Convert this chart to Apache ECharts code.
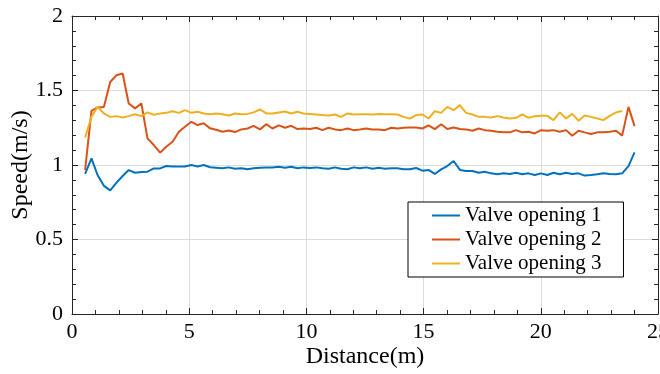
<!DOCTYPE html>
<html><head><meta charset="utf-8">
<script src="https://cdn.jsdelivr.net/npm/echarts@6/dist/echarts.min.js"></script>
<style>html,body{margin:0;padding:0;background:#fff}#c{width:660px;height:374px}</style>
</head><body><div id="c"></div>
<script>
var distance = [0.56,0.83,1.09,1.36,1.63,1.89,2.16,2.42,2.69,2.96,3.22,3.49,3.76,4.02,4.29,4.56,4.82,5.09,5.36,5.62,5.89,
6.15,6.42,6.69,6.95,7.22,7.49,7.75,8.02,8.29,8.55,
8.82,9.09,9.35,9.62,9.88,10.15,10.42,10.68,10.95,11.22,
11.48,11.75,12.02,12.28,12.55,12.82,13.08,13.35,13.62,13.88,
14.15,14.41,14.68,14.95,15.21,15.48,15.75,16.01,16.28,16.55,
16.81,17.08,17.35,17.61,17.88,18.15,18.41,18.68,18.94,19.21,
19.48,19.74,20.01,20.28,20.54,20.81,21.08,21.34,21.61,21.87,
22.14,22.41,22.67,22.94,23.21,23.47,23.74,24.00];
var valve1 = [0.94,1.045,0.933,0.86,0.83,0.88,0.926,0.966,0.948,0.953,0.955,0.977,0.977,0.993,0.99,0.99,0.99,1.0,0.99,1.0,0.985,
0.982,0.978,0.984,0.975,0.978,0.971,0.978,0.982,0.984,0.984,
0.988,0.982,0.988,0.978,0.984,0.980,0.984,0.978,0.975,0.984,
0.975,0.971,0.984,0.978,0.984,0.975,0.982,0.975,0.978,0.978,
0.971,0.971,0.980,0.962,0.967,0.940,0.971,0.993,1.027,0.967,
0.960,0.960,0.948,0.955,0.944,0.938,0.944,0.940,0.948,0.938,
0.944,0.933,0.944,0.933,0.948,0.938,0.948,0.940,0.944,0.929,
0.933,0.938,0.944,0.940,0.938,0.944,0.993,1.085];
var valve2 = [0.966,1.363,1.386,1.39,1.557,1.602,1.614,1.413,1.38,1.413,1.179,1.134,1.083,1.123,1.156,1.223,1.257,1.29,1.268,1.28,1.246,
1.237,1.223,1.232,1.221,1.239,1.245,1.263,1.239,1.274,1.245,
1.266,1.250,1.263,1.241,1.245,1.241,1.250,1.234,1.250,1.239,
1.234,1.245,1.234,1.239,1.245,1.239,1.239,1.234,1.250,1.245,
1.250,1.252,1.252,1.245,1.266,1.241,1.274,1.241,1.252,1.241,
1.239,1.230,1.245,1.234,1.230,1.223,1.219,1.219,1.234,1.219,
1.223,1.212,1.234,1.230,1.234,1.223,1.234,1.196,1.230,1.219,
1.208,1.219,1.219,1.223,1.230,1.197,1.390,1.261];
var valve3 = [1.185,1.323,1.39,1.346,1.323,1.328,1.319,1.328,1.341,1.328,1.353,1.337,1.346,1.35,1.361,1.35,1.368,1.35,1.357,1.346,1.341,
1.346,1.341,1.332,1.346,1.341,1.343,1.353,1.373,1.346,1.346,
1.353,1.359,1.346,1.357,1.346,1.343,1.339,1.335,1.332,1.339,
1.323,1.346,1.339,1.341,1.341,1.339,1.343,1.341,1.341,1.339,
1.323,1.312,1.335,1.339,1.312,1.361,1.350,1.390,1.368,1.402,
1.350,1.339,1.323,1.323,1.319,1.328,1.319,1.312,1.317,1.339,
1.317,1.328,1.330,1.330,1.301,1.353,1.312,1.343,1.297,1.332,
1.323,1.312,1.301,1.330,1.353,1.363,null,null];
var seriesNames = ['Valve opening 1','Valve opening 2','Valve opening 3'];
var xTicks = {min:0, max:25, interval:5};
var yTicks = {min:0, max:2, interval:0.5};

function pairs(vals){ return distance.map(function(d,i){ return [d, vals[i]]; }); }
var font = '"Liberation Serif","Times New Roman",serif';
var axisLine = {show:true, onZero:false, lineStyle:{color:'#262626', width:1}};
function xAx(pos, labels){
  return {type:'value', position:pos, min:xTicks.min, max:xTicks.max, interval:xTicks.interval,
    axisLine:axisLine, axisTick:{show:true, inside:true, length:6, lineStyle:{color:'#262626'}},
    minorTick:{show:true, splitNumber:5, length:4, lineStyle:{color:'#262626'}},
    splitLine:{show:labels, lineStyle:{color:'#dcdcdc', width:1}},
    axisLabel:{show:labels, color:'#000', fontFamily:font, fontSize:22, margin:7},
    name: labels ? 'Distance(m)' : '', nameLocation:'middle', nameGap:31, nameMoveOverlap:false,
    nameTextStyle:{color:'#000', fontFamily:font, fontSize:24}};
}
function yAx(pos, labels){
  return {type:'value', position:pos, min:yTicks.min, max:yTicks.max, interval:yTicks.interval,
    axisLine:axisLine, axisTick:{show:true, inside:true, length:6, lineStyle:{color:'#262626'}},
    minorTick:{show:true, splitNumber:5, length:4, lineStyle:{color:'#262626'}},
    splitLine:{show:labels, lineStyle:{color:'#dcdcdc', width:1}},
    axisLabel:{show:labels, color:'#000', fontFamily:font, fontSize:22, margin:9},
    name: labels ? 'Speed(m/s)' : '', nameLocation:'middle', nameGap:39, nameMoveOverlap:false,
    nameTextStyle:{color:'#000', fontFamily:font, fontSize:24}};
}
var colors = ['#0072BD','#D95319','#EDB120'];
var data = [valve1, valve2, valve3];
var chart = echarts.init(document.getElementById('c'), null, {renderer:'canvas'});
chart.setOption({
  animation:false,
  backgroundColor:'#fff',
  grid:{left:72, right:2, top:16, bottom:60, containLabel:false, outerBoundsMode:'none'},
  xAxis:[xAx('bottom', true), xAx('top', false)],
  yAxis:[yAx('left', true), yAx('right', false)],
  legend:{
    orient:'vertical', left:408, top:202,
    padding:[3,22,3,24], itemGap:3,
    backgroundColor:'#fff', borderColor:'#000', borderWidth:1,
    icon:'rect', itemWidth:28, itemHeight:2,
    textStyle:{color:'#000', fontFamily:font, fontSize:21, lineHeight:21},
    data: seriesNames
  },
  series: seriesNames.map(function(n,k){
    return {name:n, type:'line', data:pairs(data[k]), showSymbol:false, symbol:'none',
      color:colors[k], lineStyle:{color:colors[k], width:2}, connectNulls:false};
  })
});
</script></body></html>
